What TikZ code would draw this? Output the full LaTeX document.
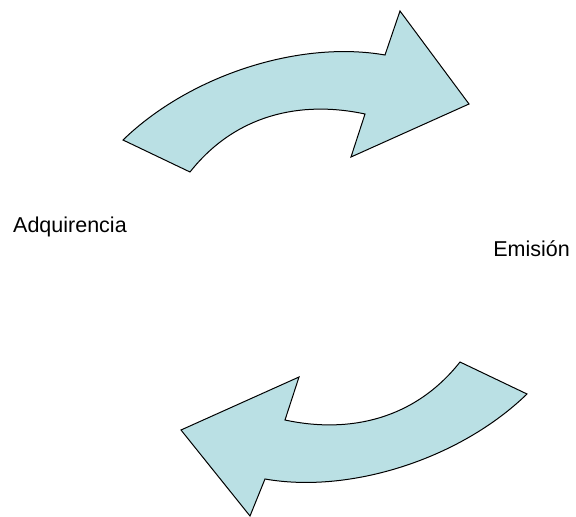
\documentclass[tikz,border=0pt]{standalone}
\usepackage{fontspec}
\setmainfont{Liberation Sans}
\definecolor{arrowfill}{RGB}{186,224,228}
\tikzset{
  curvedarrow/.style={fill=arrowfill,draw=black,line width=1pt,line join=miter},
  label/.style={inner sep=0pt,font=\fontsize{21.5}{25}\selectfont}
}
\begin{document}
\begin{tikzpicture}[x=1pt,y=-1pt]
            \useasboundingbox (0,0) rectangle (576,517);
            % upper arrow, left to right
            \draw[curvedarrow] (123,140) -- (190,172)
                .. controls (235,115) and (300,100) .. (365,114)
                -- (351,157) -- (469,104) -- (400,11) -- (385,55)
                .. controls (300,40) and (190,75) .. cycle;
            % lower arrow, right to left
            \draw[curvedarrow] (527,394) -- (460,362)
                .. controls (415,419) and (350,434) .. (285,420)
                -- (299,377) -- (181,430) -- (250,516) -- (265,479)
                .. controls (350,494) and (460,459) .. cycle;
            \node[label,anchor=base west] (adq) at (13,232) {Adquirencia};
            \node[label,anchor=base east] (emi) at (570,256) {Emisión};
        \end{tikzpicture}
\end{document}
